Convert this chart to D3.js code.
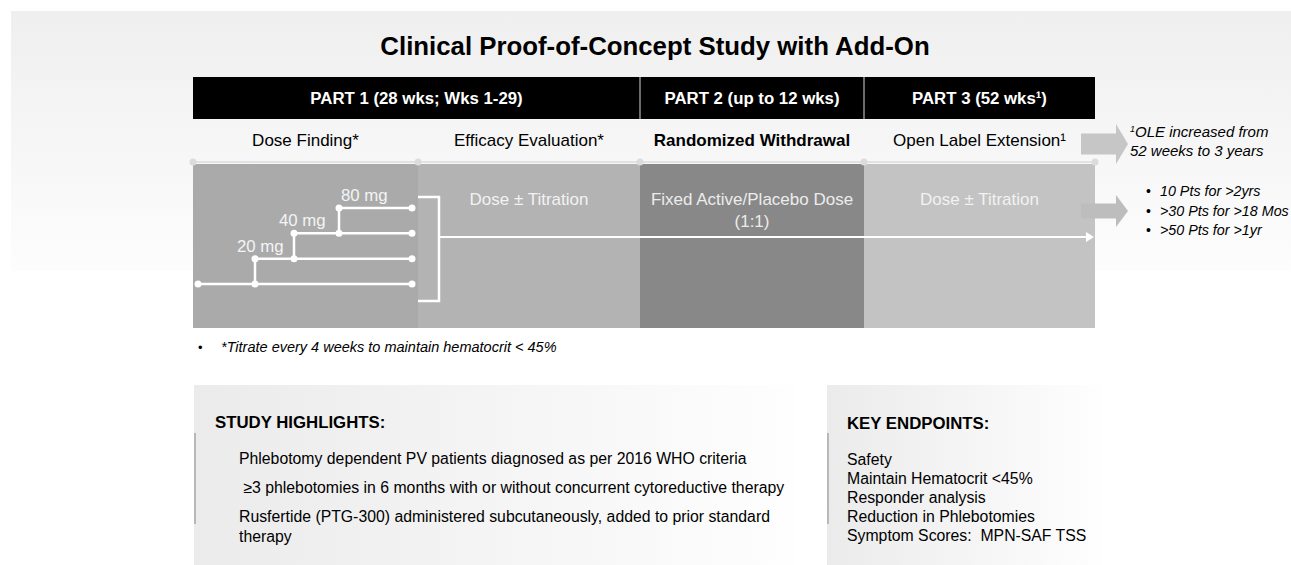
<!DOCTYPE html>
<html><head><meta charset="utf-8">
<script src="https://cdn.jsdelivr.net/npm/d3@7"></script>
<style>
html,body{margin:0;padding:0;background:#fff;}
svg{display:block;font-family:Arial,"Liberation Sans",sans-serif;}
</style></head>
<body>
<script>
// ---------- data ----------
const title = "Clinical Proof-of-Concept Study with Add-On";
const parts = ["PART 1 (28 wks; Wks 1-29)", "PART 2 (up to 12 wks)", "PART 3 (52 wks\u00B9)"];
const partStart = [0, 2, 3];
const partEnd = [2, 3, 4];
const phases = ["Dose Finding*", "Efficacy Evaluation*", "Randomized Withdrawal", "Open Label Extension\u00B9"];
const phaseBold = [false, false, true, false];
const phaseFill = ["#aaaaaa", "#b3b3b3", "#888888", "#c3c3c3"];
const phaseInner = [[], ["Dose \u00B1 Titration"], ["Fixed Active/Placebo Dose", "(1:1)"], ["Dose \u00B1 Titration"]];
const doseLabels = ["", "20 mg", "40 mg", "80 mg"];
const footnote = "*Titrate every 4 weeks to maintain hematocrit < 45%";
const oleNote = ["\u00B9OLE increased from", "52 weeks to 3 years"];
const oleBullets = ["10 Pts for >2yrs", ">30 Pts for >18 Mos", ">50 Pts for >1yr"];
const highlightsTitle = "STUDY HIGHLIGHTS:";
const highlights = [
  ["Phlebotomy dependent PV patients diagnosed as per 2016 WHO criteria"],
  ["\u00A0\u22653 phlebotomies in 6 months with or without concurrent cytoreductive therapy"],
  ["Rusfertide (PTG-300) administered subcutaneously, added to prior standard", "therapy"]
];
const endpointsTitle = "KEY ENDPOINTS:";
const endpoints = ["Safety", "Maintain Hematocrit <45%", "Responder analysis", "Reduction in Phlebotomies", "Symptom Scores:\u00A0 MPN-SAF TSS"];

// ---------- layout ----------
const W = 1291, H = 565;
const svg = d3.select("body").append("svg").attr("width", W).attr("height", H);
const defs = svg.append("defs");
const g1 = defs.append("linearGradient").attr("id", "topGrad").attr("x1", 0).attr("y1", 0).attr("x2", 0).attr("y2", 1);
g1.append("stop").attr("offset", "0%").attr("stop-color", "#efefef");
g1.append("stop").attr("offset", "100%").attr("stop-color", "#fdfdfd");
const g2 = defs.append("linearGradient").attr("id", "boxGrad").attr("x1", 0).attr("y1", 0).attr("x2", 1).attr("y2", 0);
g2.append("stop").attr("offset", "0%").attr("stop-color", "#ebebeb");
g2.append("stop").attr("offset", "100%").attr("stop-color", "#fefefe");

svg.append("rect").attr("x", 11).attr("y", 11).attr("width", W - 11).attr("height", 260).attr("fill", "url(#topGrad)");

const segX = d3.scaleLinear().domain([0, 1, 2, 3, 4]).range([193, 418, 640, 864, 1095]);
const segMid = i => (segX(i) + segX(i + 1)) / 2;

// title
svg.append("text").attr("x", 655).attr("y", 55).attr("text-anchor", "middle")
  .attr("font-size", 25.8).attr("font-weight", "bold").attr("fill", "#000").text(title);

// header bar
svg.selectAll("rect.part").data(parts).join("rect").attr("class", "part")
  .attr("x", (d, i) => segX(partStart[i])).attr("y", 77)
  .attr("width", (d, i) => segX(partEnd[i]) - segX(partStart[i])).attr("height", 42).attr("fill", "#000");
svg.selectAll("line.pdiv").data(partStart.slice(1)).join("line").attr("class", "pdiv")
  .attr("x1", d => segX(d)).attr("x2", d => segX(d)).attr("y1", 77).attr("y2", 119)
  .attr("stroke", "#d8d8d8").attr("stroke-width", 1);
svg.selectAll("text.part").data(parts).join("text").attr("class", "part")
  .attr("x", (d, i) => (segX(partStart[i]) + segX(partEnd[i])) / 2).attr("y", 104)
  .attr("text-anchor", "middle").attr("font-size", 16.8).attr("font-weight", "bold").attr("fill", "#fff").text(d => d);

// phase labels
svg.selectAll("text.phase").data(phases).join("text").attr("class", "phase")
  .attr("x", (d, i) => segMid(i)).attr("y", 146).attr("text-anchor", "middle")
  .attr("font-size", 17).attr("font-weight", (d, i) => phaseBold[i] ? "bold" : "normal").attr("fill", "#000").text(d => d);

// light timeline with dots
svg.append("line").attr("x1", segX(0)).attr("x2", segX(4)).attr("y1", 162).attr("y2", 162)
  .attr("stroke", "#e2e2e2").attr("stroke-width", 2);

// phase blocks
svg.selectAll("rect.block").data(phases).join("rect").attr("class", "block")
  .attr("x", (d, i) => segX(i)).attr("y", 164).attr("width", (d, i) => segX(i + 1) - segX(i)).attr("height", 164)
  .attr("fill", (d, i) => phaseFill[i]);
svg.selectAll("circle.tick").data(d3.range(5)).join("circle").attr("class", "tick")
  .attr("cx", d => segX(d)).attr("cy", 162).attr("r", 3.5).attr("fill", "#dcdcdc");

// block inner texts
phaseInner.forEach((lines, i) => {
  lines.forEach((t, j) => {
    svg.append("text").attr("x", segMid(i)).attr("y", 205 + j * 22).attr("text-anchor", "middle")
      .attr("font-size", 17).attr("fill", i === 2 ? "#ececec" : "#f2f2f2").text(t);
  });
});

// side arrows
function blockArrow(x0, x1, xt, cy, bh, hh) {
  return `M${x0},${cy - bh / 2}L${x1},${cy - bh / 2}L${x1},${cy - hh / 2}L${xt},${cy}L${x1},${cy + hh / 2}L${x1},${cy + bh / 2}L${x0},${cy + bh / 2}Z`;
}
svg.append("path").attr("d", blockArrow(1081, 1116, 1128, 144, 21, 40)).attr("fill", "#c6c6c6");
svg.append("path").attr("d", blockArrow(1081, 1116, 1128, 211, 15, 32)).attr("fill", "#bdbdbd");

// dose titration steps
const stepX = d3.scaleLinear().domain([0, 1, 2, 3]).range([198, 255, 294, 339]);
const stepEnd = 412;
const levelY = d3.scaleLinear().domain([0, 3]).range([284, 208]);
const labelDx = [0, -18, -15, 2];
const steps = svg.append("g");
doseLabels.forEach((lab, i) => {
  steps.append("line").attr("x1", stepX(i)).attr("x2", stepEnd).attr("y1", levelY(i)).attr("y2", levelY(i))
    .attr("stroke", "#fff").attr("stroke-width", 2.5);
  if (i > 0) {
    steps.append("line").attr("x1", stepX(i)).attr("x2", stepX(i)).attr("y1", levelY(i - 1)).attr("y2", levelY(i))
      .attr("stroke", "#fff").attr("stroke-width", 2.5);
    steps.append("text").attr("x", stepX(i) + labelDx[i]).attr("y", levelY(i) - 7)
      .attr("font-size", 16.8).attr("fill", "#f4f4f4").text(lab);
  }
  const pts = [[stepX(i), levelY(i)], [stepEnd, levelY(i)]];
  if (i < 3) pts.push([stepX(i + 1), levelY(i)]);
  pts.forEach(p => steps.append("circle").attr("cx", p[0]).attr("cy", p[1]).attr("r", 3.5).attr("fill", "#fff"));
});
// bracket
const bTop = levelY(3) - 11, bBot = levelY(0) + 17, bx = 439;
steps.append("path").attr("d", `M${segX(1)},${bTop}H${bx}V${bBot}H${segX(1)}`)
  .attr("fill", "none").attr("stroke", "#fff").attr("stroke-width", 2.5);
// long arrow
steps.append("line").attr("x1", bx).attr("x2", segX(4) - 6).attr("y1", 237).attr("y2", 237)
  .attr("stroke", "#fff").attr("stroke-width", 2);
steps.append("path").attr("d", `M${segX(4) - 9},232L${segX(4) - 1},237L${segX(4) - 9},242Z`).attr("fill", "#fff");

// OLE notes
oleNote.forEach((t, i) => {
  const tx = svg.append("text").attr("x", 1130).attr("y", 137 + i * 19).attr("font-size", 15).attr("font-style", "italic").attr("fill", "#000");
  if (i === 0) {
    tx.append("tspan").attr("font-size", 9).attr("dy", -5).text("1");
    tx.append("tspan").attr("dy", 5).text(t.slice(1));
  } else tx.text(t);
});
oleBullets.forEach((t, i) => {
  svg.append("text").attr("x", 1146).attr("y", 196 + i * 19.5).attr("font-size", 14).attr("fill", "#000").text("\u2022");
  svg.append("text").attr("x", 1160).attr("y", 196 + i * 19.5).attr("font-size", 14.3).attr("font-style", "italic").attr("fill", "#000").text(t);
});

// footnote
svg.append("text").attr("x", 198).attr("y", 352).attr("font-size", 13).attr("fill", "#000").text("\u2022");
svg.append("text").attr("x", 221).attr("y", 352).attr("font-size", 14.5).attr("font-style", "italic").attr("fill", "#000").text(footnote);

// bottom panels
function panel(x, w, accentX) {
  svg.append("rect").attr("x", x).attr("y", 385).attr("width", w).attr("height", 180).attr("fill", "url(#boxGrad)");
  svg.append("line").attr("x1", accentX).attr("x2", accentX).attr("y1", 433).attr("y2", 524).attr("stroke", "#b8b8b8").attr("stroke-width", 2);
}
panel(194, 600, 195);
panel(827, 275, 828);

svg.append("text").attr("x", 215).attr("y", 428).attr("font-size", 16.8).attr("font-weight", "bold").attr("fill", "#000").text(highlightsTitle);
let hy = 464;
highlights.forEach(item => {
  item.forEach((t, j) => {
    svg.append("text").attr("x", 239).attr("y", hy + j * 19.5).attr("font-size", 15.8).attr("fill", "#000").text(t);
  });
  hy += 29;
});

svg.append("text").attr("x", 847).attr("y", 429).attr("font-size", 16.8).attr("font-weight", "bold").attr("fill", "#000").text(endpointsTitle);
svg.selectAll("text.ep").data(endpoints).join("text").attr("class", "ep")
  .attr("x", 847).attr("y", (d, i) => 465 + i * 19).attr("font-size", 15.8).attr("fill", "#000").text(d => d);
</script>
</body></html>
